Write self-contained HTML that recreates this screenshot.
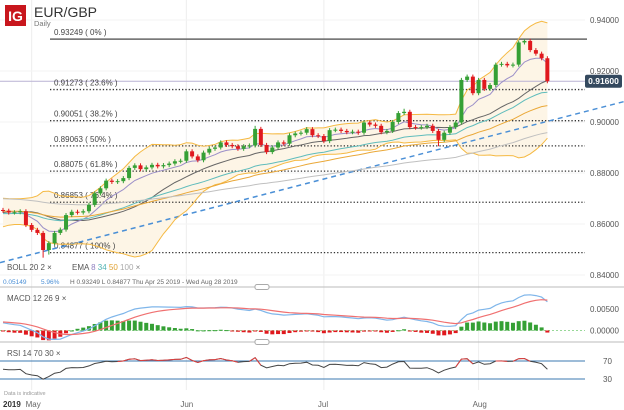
<!DOCTYPE html>
<html><head><meta charset="utf-8">
<style>
body{margin:0;background:#fff;}
svg{display:block;font-family:"Liberation Sans",sans-serif;}
</style></head>
<body>
<svg id="chart" width="624" height="410" viewBox="0 0 624 410" xmlns="http://www.w3.org/2000/svg">
  <g id="grid"></g>
  <g id="price"></g>
  <g id="macd"></g>
  <g id="rsi"></g>
  <rect x="5" y="5" width="21" height="21" fill="#c8161d"/>
  <text x="15.5" y="21" font-size="14" font-weight="bold" fill="#fff" text-anchor="middle">IG</text>
  <text x="34" y="17" font-size="14" fill="#333">EUR/GBP</text>
  <text x="34" y="26" font-size="7.5" fill="#777">Daily</text>
  <text x="7" y="270" font-size="8" fill="#555">BOLL  20  2  ×</text>
  <text x="72" y="270" font-size="8"><tspan fill="#555">EMA  </tspan><tspan fill="#8e7fc0">8  </tspan><tspan fill="#4fb3b3">34  </tspan><tspan fill="#e0a030">50  </tspan><tspan fill="#aaa">100  </tspan><tspan fill="#888">×</tspan></text>
  <text x="3" y="284" font-size="6.5" fill="#4a8fd6">0.05149</text>
  <text x="41" y="284" font-size="6.5" fill="#4a8fd6">5.96%</text>
  <text x="70" y="284" font-size="6.5" fill="#666">H 0.93249    L 0.84877    Thu Apr 25 2019 - Wed Aug 28 2019</text>
  <text x="7" y="301" font-size="8" fill="#555">MACD  12  26  9  ×</text>
  <text x="7" y="356" font-size="8" fill="#555">RSI  14  70  30  ×</text>
  <text x="4" y="395" font-size="5.5" fill="#999">Data is indicative</text>
</svg>
<script>
const closes=[0.8652,0.8645,0.8646,0.8650,0.8596,0.8577,0.8565,0.8498,0.8525,0.8565,0.8578,0.8635,0.8648,0.8645,0.8650,0.8675,0.8720,0.8740,0.8770,0.8765,0.8768,0.8780,0.8820,0.8830,0.8815,0.8822,0.8832,0.8826,0.8831,0.8837,0.8846,0.8848,0.8885,0.8865,0.8850,0.8880,0.8895,0.8900,0.8920,0.8910,0.8905,0.8895,0.8905,0.8908,0.8973,0.8910,0.8882,0.8900,0.8920,0.8915,0.8948,0.8955,0.8958,0.8972,0.8948,0.8945,0.8925,0.8968,0.8970,0.8965,0.8960,0.8962,0.8958,0.8998,0.8990,0.8985,0.8960,0.8965,0.9000,0.9035,0.9040,0.8980,0.8978,0.8980,0.8985,0.8965,0.8930,0.8958,0.8980,0.8998,0.9165,0.9178,0.9113,0.9165,0.9130,0.9145,0.9225,0.9228,0.9222,0.9225,0.9312,0.9318,0.9282,0.9268,0.9250,0.9160];
const firstOpen=0.8655;
const lowOverrides={7:0.8468,8:0.8480,76:0.8905};
const highOverrides={44:0.8985,70:0.9052,91:0.93249};
const priorCloses=[0.8600,0.8620,0.8650,0.8610,0.8590,0.8630,0.8660,0.8680,0.8700,0.8690,0.8660,0.8640,0.8670,0.8650,0.8630,0.8620,0.8640,0.8660,0.8650];
const emaPeriods=[8,34,50,100];
const emaSeeds=[0.8650,0.8640,0.8650,0.8700];
const emaColors=['#9b8fc8','#5fbcbc','#eaa838','#c0c0c0'];
const fibLevels=[0.93249,0.91273,0.90051,0.89063,0.88075,0.86853,0.84877];
const fibPcts=['0%','23.6%','38.2%','50%','61.8%','76.4%','100%'];
const priceTicks=[0.94,0.92,0.90,0.88,0.86,0.84];
const macdTicks=[0.005,0];
const rsiTicks=[70,30];
const monthLabels=['May','Jun','Jul','Aug'];
const monthIdx=[5,32,56,83];
const lastPrice=0.9160;
const macdSeeds=[0.8660,0.8640,0.0020];
const rsiSeeds=[0.0012,0.0011];

const NS='http://www.w3.org/2000/svg';
function mk(parent,tag,attrs){const e=document.createElementNS(NS,tag);for(const k in attrs)e.setAttribute(k,attrs[k]);parent.appendChild(e);return e;}
const X=i=>3+i*5.73;
const Y=p=>20+(0.94-p)*2550;
const YM=v=>330.5-v*4320;
const YR=v=>361+(70-v)*0.45;
const grid=document.getElementById('grid'),price=document.getElementById('price'),macdG=document.getElementById('macd'),rsiG=document.getElementById('rsi');
const svg=document.getElementById('chart');

monthIdx.forEach((mi,k)=>{
  const x=X(mi);
  let l=mk(grid,'line',{x1:x,x2:x,y1:0,y2:390,stroke:'#eeeeee','stroke-width':1});
  
  
  let t=mk(svg,'text',{x:x-6,y:407,'font-size':8,fill:'#666'});t.textContent=monthLabels[k];
  
  
});
let yr=mk(svg,'text',{x:3,y:407,'font-size':8,'font-weight':'bold',fill:'#333'});yr.textContent='2019';


priceTicks.forEach(p=>{
  let l=mk(grid,'line',{x1:0,x2:585,y1:Y(p),y2:Y(p),stroke:'#f3f3f3'});
  
  
  let t=mk(svg,'text',{x:590,y:Y(p)+3,'font-size':8,fill:'#555'});t.textContent=p.toFixed(5);
  
  
});
[287,342].forEach(y=>{
  let l=mk(svg,'line',{x1:0,x2:624,y1:y,y2:y,stroke:'#bbb'});
  
  
  let h=mk(svg,'rect',{x:255,y:y-2.5,width:14,height:5,rx:2,fill:'#fff',stroke:'#aaa'});
  
  
});

const N=closes.length;
const opens=closes.map((c,i)=>i?closes[i-1]:firstOpen);
const highs=closes.map((c,i)=>highOverrides[i]!==undefined?highOverrides[i]:Math.max(c,opens[i])+0.0008);
const lows=closes.map((c,i)=>lowOverrides[i]!==undefined?lowOverrides[i]:Math.min(c,opens[i])-0.0008);
const all=priorCloses.concat(closes);
const mid=[],up=[],lo=[];
for(let i=0;i<N;i++){const w=all.slice(i,i+20);const m=w.reduce((a,b)=>a+b,0)/20;const sd=Math.sqrt(w.reduce((a,b)=>a+(b-m)*(b-m),0)/20);mid.push(m);up.push(m+2*sd);lo.push(m-2*sd);}
const emas=emaPeriods.map((p,k)=>{let e=emaSeeds[k];const a=2/(p+1);return closes.map(c=>(e=e+a*(c-e)));});
let e12=macdSeeds[0],e26=macdSeeds[1],sg=macdSeeds[2];
const macd=[],sig=[];
closes.forEach(c=>{e12+=2/13*(c-e12);e26+=2/27*(c-e26);const m=e12-e26;sg+=0.2*(m-sg);macd.push(m);sig.push(sg);});
let ag=rsiSeeds[0],al=rsiSeeds[1];
const rsi=closes.map((c,i)=>{const d=c-opens[i];ag=(ag*13+Math.max(d,0))/14;al=(al*13+Math.max(-d,0))/14;return 100-100/(1+ag/al);});
const path=(arr,fx,fy)=>arr.map((v,i)=>(i?'L':'M')+fx(i).toFixed(1)+' '+fy(v).toFixed(1)).join(' ');

let bf=mk(price,'path',{d:path(up,X,Y)+' '+lo.map((v,i)=>'L'+X(N-1-i).toFixed(1)+' '+Y(lo[N-1-i]).toFixed(1)).join(' ')+'Z',fill:'#fdf5e6',stroke:'none'});


let lp=mk(price,'line',{x1:0,x2:585,y1:Y(lastPrice),y2:Y(lastPrice),stroke:'#b9b2d4'});


fibLevels.forEach((f,k)=>{
  const y=Y(f);
  let l=mk(price,'line',k==0?{x1:50,x2:587,y1:y,y2:y,stroke:'#666','stroke-width':1.5}:{x1:50,x2:585,y1:y,y2:y,stroke:'#333','stroke-width':1.3,'stroke-dasharray':'1.3 2'});
  
  
  let t=mk(price,'text',{x:54,y:y-4,'font-size':8,fill:'#444'});t.textContent=f.toFixed(5)+' ( '+fibPcts[k]+' )';
  
  
});
let tl=mk(price,'line',{x1:0,y1:262.6,x2:624,y2:101.6,stroke:'#4a8fd6','stroke-width':1.5,'stroke-dasharray':'5 4'});


[[up,'#f5b942','bollinger-upper'],[lo,'#f5b942','bollinger-lower'],[mid,'#666','bollinger-middle']].forEach(([a,c,n])=>{
  let p=mk(price,'path',{d:path(a,X,Y),fill:'none',stroke:c,'stroke-width':1});
  
  
});
emas.forEach((a,k)=>{
  let p=mk(price,'path',{d:path(a,X,Y),fill:'none',stroke:emaColors[k],'stroke-width':1});
  
  
});
closes.forEach((c,i)=>{
  const o=opens[i],col=c>=o?'#35a035':'#e0191e',x=X(i);
  let w=mk(price,'line',{x1:x,x2:x,y1:Y(highs[i]),y2:Y(lows[i]),stroke:col,'stroke-width':1});
  
  
  const yt=Y(Math.max(o,c)),yb=Y(Math.min(o,c));
  let b=mk(price,'rect',{x:x-2,y:yt,width:4,height:Math.max(1,yb-yt),fill:col});
  
  
});
let tag=mk(svg,'rect',{x:585,y:Y(lastPrice)-6.5,width:37,height:13,rx:2,fill:'#34495e'});


let tt=mk(svg,'text',{x:603.5,y:Y(lastPrice)+3,'font-size':8.5,'font-weight':'bold',fill:'#fff','text-anchor':'middle'});tt.textContent=lastPrice.toFixed(5);



macdTicks.forEach(v=>{
  let t=mk(svg,'text',{x:590,y:YM(v)+3,'font-size':8,fill:'#555'});t.textContent=v.toFixed(5);
  
  
});
let zl=mk(macdG,'line',{x1:0,x2:585,y1:YM(0),y2:YM(0),stroke:'#7c7',"stroke-dasharray":'2 2','stroke-width':0.8});


macd.forEach((m,i)=>{
  const h=(m-sig[i])*1.2,y0=YM(0),y1=YM(h);
  let r=mk(macdG,'rect',{x:X(i)-2,y:Math.min(y0,y1),width:4,height:Math.max(1,Math.abs(y1-y0)),fill:h>=0?'#35a035':'#e0191e'});
  
  
});
let ml=mk(macdG,'path',{d:path(macd,X,YM),fill:'none',stroke:'#7fb6ea','stroke-width':1.2});


let sl=mk(macdG,'path',{d:path(sig,X,YM),fill:'none',stroke:'#f07070','stroke-width':1.2});



rsiTicks.forEach(v=>{
  let l=mk(rsiG,'line',{x1:0,x2:585,y1:YR(v),y2:YR(v),stroke:'#3b78b0','stroke-width':1});
  
  
  let t=mk(svg,'text',{x:603,y:YR(v)+3,'font-size':8,fill:'#555'});t.textContent=v;
  
  
});
let rl=mk(rsiG,'path',{d:path(rsi,X,YR),fill:'none',stroke:'#444','stroke-width':1});


rsi.forEach((v,i)=>{
  if(i>0&&(v>70||rsi[i-1]>70)){
    let s=mk(rsiG,'line',{x1:X(i-1),y1:YR(rsi[i-1]),x2:X(i),y2:YR(v),stroke:'#e04040','stroke-width':1});
    
    
  }
});
</script>
</body></html>
